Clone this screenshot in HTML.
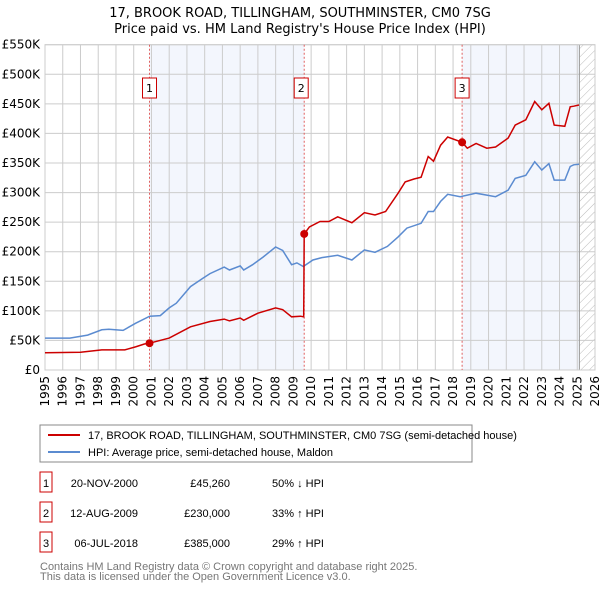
<!DOCTYPE html>
<html><head><meta charset="utf-8"><style>
body{margin:0;width:600px;height:590px;background:#fff;font-family:"Liberation Sans","DejaVu Sans",sans-serif;overflow:hidden}
svg text{font-family:"DejaVu Sans","Liberation Sans",sans-serif}
svg text.lib{font-family:"Liberation Sans","DejaVu Sans",sans-serif}
</style></head><body>
<svg id="c" width="600" height="590" viewBox="0 0 600 590">
<defs><pattern id="hatch" width="6" height="6" patternUnits="userSpaceOnUse" patternTransform="rotate(45)"><line x1="0" y1="0" x2="0" y2="6" stroke="#bbb" stroke-width="1"/></pattern></defs>
<text x="300" y="17" text-anchor="middle" font-size="13" fill="#000">17, BROOK ROAD, TILLINGHAM, SOUTHMINSTER, CM0 7SG</text>
<text x="300" y="33" text-anchor="middle" font-size="13" fill="#000">Price paid vs. HM Land Registry's House Price Index (HPI)</text>
<g id="plot"></g>
<rect x="40" y="425" width="432" height="37" fill="#fff" stroke="#888"/>
<line x1="48" y1="435" x2="80" y2="435" stroke="#cc0000" stroke-width="2"/>
<text class="lib" x="88" y="439" font-size="11">17, BROOK ROAD, TILLINGHAM, SOUTHMINSTER, CM0 7SG (semi-detached house)</text>
<line x1="48" y1="452" x2="80" y2="452" stroke="#5b8bd0" stroke-width="2"/>
<text class="lib" x="88" y="456" font-size="11">HPI: Average price, semi-detached house, Maldon</text>
<g id="table" font-size="11"></g>
<text class="lib" x="40" y="570" font-size="11" fill="#777">Contains HM Land Registry data © Crown copyright and database right 2025.</text>
<text class="lib" x="40" y="580" font-size="11" fill="#777">This data is licensed under the Open Government Licence v3.0.</text>
</svg>
<script>
const hpiYears=[1995,1996.4,1997.4,1998.2,1998.6,1999.4,2000.1,2000.9,2001.5,2002.0,2002.4,2003.2,2003.9,2004.3,2005.1,2005.4,2006.0,2006.2,2006.7,2007.3,2008.0,2008.4,2008.9,2009.2,2009.56,2010.1,2010.6,2011.5,2012.3,2013.0,2013.6,2014.3,2014.9,2015.4,2016.2,2016.6,2016.9,2017.3,2017.7,2018.4,2019.3,2020.4,2021.1,2021.5,2022.1,2022.6,2023.0,2023.4,2023.7,2024.3,2024.6,2024.8,2025.1];
const hpiValues=[54,54,59,68,69,67,79,91,92,105,113,141,155,163,174,169,176,169,178,191,208,202,178,181,175,186,190,194,186,203,199,209,225,240,248,268,268,285,297,293,299,293,304,324,329,352,338,349,321,321,344,347,348];
const priceYears=[1995,1997,1998.2,1999.5,2000.1,2000.6,2000.89,2002.0,2003.2,2004.3,2005.1,2005.4,2006.0,2006.2,2007.0,2008.0,2008.4,2008.9,2009.4,2009.58,2009.61,2009.9,2010.5,2011.0,2011.5,2012.3,2013.0,2013.6,2014.2,2014.9,2015.3,2015.8,2016.2,2016.6,2016.9,2017.3,2017.7,2018.51,2018.8,2019.3,2019.9,2020.4,2021.1,2021.5,2022.1,2022.6,2023.0,2023.4,2023.7,2024.3,2024.6,2024.8,2025.1];
const priceValues=[29,30,34,34,39,44,45.26,54,73,82,86,83,88,84,96,105,102,90,91,90,230,242,251,251,259,249,266,262,268,299,318,323,326,361,353,380,394,385,375,383,375,377,392,414,423,454,440,451,414,412,445,446,448];
const saleYears=[2000.89,2009.61,2018.51];
const saleValues=[45.26,230,385];
const saleLabels=["1","2","3"];
const saleDates=["20-NOV-2000","12-AUG-2009","06-JUL-2018"];
const salePrices=["£45,260","£230,000","£385,000"];
const saleDiffs=["50% ↓ HPI","33% ↑ HPI","29% ↑ HPI"];
const yTicks=[0,50,100,150,200,250,300,350,400,450,500,550];
const yTickLabels=["£0","£50K","£100K","£150K","£200K","£250K","£300K","£350K","£400K","£450K","£500K","£550K"];
const xTicks=[1995,1996,1997,1998,1999,2000,2001,2002,2003,2004,2005,2006,2007,2008,2009,2010,2011,2012,2013,2014,2015,2016,2017,2018,2019,2020,2021,2022,2023,2024,2025,2026];
const dataEnd=2025.12;

const NS="http://www.w3.org/2000/svg";
const L=45,R=595,T=44.7,B=370,X0=1995,X1=2026,Y1=550;
const xs=v=>L+(v-X0)/(X1-X0)*(R-L);
const ys=v=>B-v/Y1*(B-T);
const g=document.getElementById('plot');
function mk(tag,attrs,parent){const e=document.createElementNS(NS,tag);for(const k in attrs)e.setAttribute(k,attrs[k]);(parent||g).appendChild(e);return e;}
let e;
e=mk('rect',{x:L,y:T,width:R-L,height:B-T,fill:'#fff'});


e=mk('rect',{x:xs(saleYears[0]),y:T,width:xs(saleYears[1])-xs(saleYears[0]),height:B-T,fill:'#f3f6fd'});


e=mk('rect',{x:xs(saleYears[2]),y:T,width:xs(dataEnd)-xs(saleYears[2]),height:B-T,fill:'#f3f6fd'});


e=mk('rect',{x:xs(dataEnd),y:T,width:R-xs(dataEnd),height:B-T,fill:'url(#hatch)'});


yTicks.forEach((t,i)=>{
  e=mk('line',{x1:L,x2:R,y1:ys(t),y2:ys(t),stroke:'#ccc','stroke-width':1});
  
  
  e=mk('text',{x:40,y:ys(t)+4,'text-anchor':'end','font-size':12,fill:'#000'});
  e.textContent=yTickLabels[i];
  
  
});
xTicks.forEach(t=>{
  e=mk('line',{x1:xs(t),x2:xs(t),y1:T,y2:B,stroke:'#ccc','stroke-width':1});
  
  
  e=mk('text',{x:0,y:0,'font-size':12,'text-anchor':'end',transform:`translate(${xs(t)+4},${B+6}) rotate(-90)`});
  e.textContent=t;
  
  
});
e=mk('line',{x1:xs(dataEnd),x2:xs(dataEnd),y1:T,y2:B,stroke:'#999','stroke-width':1});


e=mk('rect',{x:L,y:T,width:R-L,height:B-T,fill:'none',stroke:'#ccc'});


saleYears.forEach((y,i)=>{
  e=mk('line',{x1:xs(y),x2:xs(y),y1:T,y2:B,stroke:'#e06060','stroke-dasharray':'2,2','stroke-width':1});
  
  
  const bx=xs(y)-(i==1?10:7);
  e=mk('rect',{x:bx,y:78,width:14,height:20,fill:'#fff',stroke:'#cc0000'});
  
  
  e=mk('text',{x:bx+7,y:92,'text-anchor':'middle','font-size':11});
  e.textContent=saleLabels[i];
  
  
});
const pts=(xa,va)=>xa.map((x,i)=>xs(x).toFixed(1)+','+ys(va[i]).toFixed(1)).join(' ');
e=mk('polyline',{points:pts(hpiYears,hpiValues),fill:'none',stroke:'#5b8bd0','stroke-width':1.5});


e=mk('polyline',{points:pts(priceYears,priceValues),fill:'none',stroke:'#cc0000','stroke-width':1.5});


saleYears.forEach((y,i)=>{
  e=mk('circle',{cx:xs(y),cy:ys(saleValues[i]),r:4,fill:'#cc0000'});
  
  
});
const tb=document.getElementById('table');
saleLabels.forEach((l,i)=>{
  const yy=483+i*30;
  e=mk('rect',{x:40,y:yy-11,width:12,height:20,fill:'#fff',stroke:'#cc0000'},tb);
  
  
  e=mk('text',{x:46,y:yy+4,'text-anchor':'middle',class:'lib'},tb);e.textContent=l;
  
  
  e=mk('text',{x:138,y:yy+4,'text-anchor':'end',class:'lib'},tb);e.textContent=saleDates[i];
  
  
  e=mk('text',{x:230,y:yy+4,'text-anchor':'end',class:'lib'},tb);e.textContent=salePrices[i];
  
  
  e=mk('text',{x:272,y:yy+4,class:'lib'},tb);e.textContent=saleDiffs[i];
  
  
});
</script>
</body></html>
